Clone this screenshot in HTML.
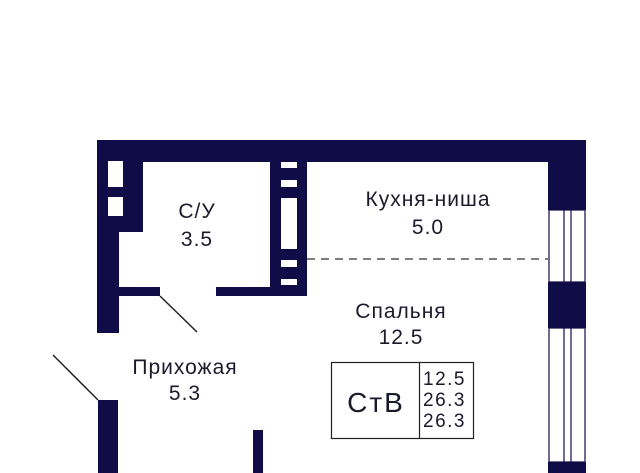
<!DOCTYPE html>
<html><head><meta charset="utf-8"><style>
html,body{margin:0;padding:0;background:#fff;width:640px;height:473px;overflow:hidden}
svg text{font-family:"Liberation Sans",sans-serif;fill:#1a1a2a}
</style></head><body>
<svg width="640" height="473" viewBox="0 0 640 473" xmlns="http://www.w3.org/2000/svg">
<g fill="#100c48">
<rect x="97" y="140" width="489" height="22"/>
<rect x="548" y="140" width="38" height="70"/>
<rect x="548" y="282" width="38" height="46"/>
<rect x="548" y="462" width="38" height="11"/>
<rect x="97" y="140" width="46" height="92"/>
<rect x="97" y="140" width="22" height="193"/>
<rect x="98" y="400" width="20" height="73"/>
<rect x="119" y="287" width="41" height="9"/>
<rect x="216" y="287" width="91" height="9"/>
<rect x="270" y="150" width="37" height="146"/>
<rect x="253" y="430" width="10" height="43"/>
</g>
<g fill="#fff">
<rect x="108" y="161" width="15" height="26"/>
<rect x="108" y="197" width="15" height="19"/>
<rect x="281" y="162" width="16" height="6"/>
<rect x="281" y="180" width="16" height="7"/>
<rect x="281" y="198" width="16" height="51"/>
<rect x="281" y="260" width="16" height="7"/>
<rect x="281" y="279" width="16" height="6"/>
</g>
<g stroke="#100c48" stroke-width="1.2" fill="none">
<rect x="549" y="210" width="36" height="72"/>
<line x1="564" y1="210" x2="564" y2="282"/><line x1="571" y1="210" x2="571" y2="282"/>
<rect x="549" y="328" width="36" height="134"/>
<line x1="564" y1="328" x2="564" y2="462"/><line x1="571" y1="328" x2="571" y2="462"/>
</g>
<g stroke="#222" stroke-width="1.5">
<line x1="53" y1="355" x2="98" y2="400"/>
<line x1="160" y1="296" x2="197" y2="332"/>
</g>
<line x1="307" y1="259" x2="548" y2="259" stroke="#333" stroke-width="1.2" stroke-dasharray="8,6"/>
<g font-size="21" letter-spacing="1" text-anchor="middle">
<text x="197" y="218">С/У</text><text x="197" y="246">3.5</text>
<text x="428" y="206">Кухня-ниша</text><text x="428" y="234">5.0</text>
<text x="401" y="318">Спальня</text><text x="401" y="344">12.5</text>
<text x="185" y="374">Прихожая</text><text x="185" y="400">5.3</text>
</g>
<rect x="331.5" y="362.5" width="142" height="76" fill="none" stroke="#222" stroke-width="1.2"/>
<line x1="419.5" y1="362" x2="419.5" y2="439" stroke="#222" stroke-width="1.2"/>
<text x="376" y="412" font-size="28" letter-spacing="2" text-anchor="middle">СтВ</text>
<g font-size="19" letter-spacing="1.5"><text x="423" y="385">12.5</text><text x="423" y="406">26.3</text><text x="423" y="427">26.3</text></g>
</svg>
</body></html>
